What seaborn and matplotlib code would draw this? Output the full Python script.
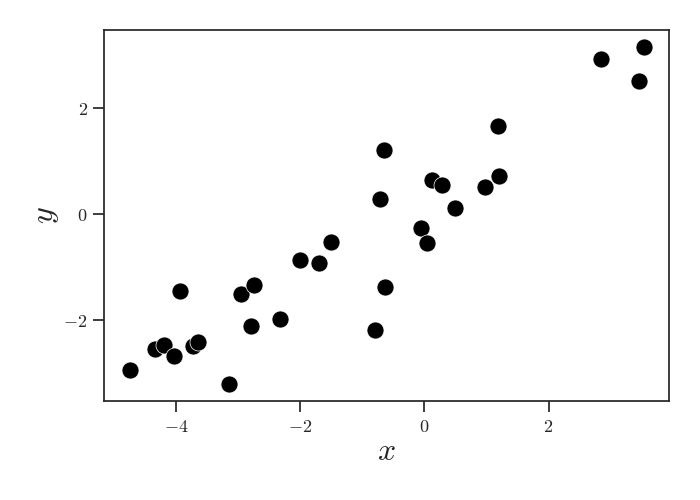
import matplotlib
matplotlib.use("Agg")
import matplotlib.pyplot as plt
import seaborn as sns
import pandas as pd

x_vals = [-4.74, -4.34, -4.19, -4.03, -3.93, -3.73, -3.64, -3.15, -2.95, -2.79,
          -2.75, -2.33, -2.01, -1.70, -1.51, -0.80, -0.72, -0.65, -0.64, -0.06,
          0.05, 0.12, 0.29, 0.49, 0.97, 1.19, 1.21, 2.85, 3.46, 3.53]
y_vals = [-2.95, -2.55, -2.49, -2.69, -1.47, -2.50, -2.43, -3.22, -1.52, -2.12,
          -1.34, -1.99, -0.87, -0.94, -0.54, -2.20, 0.27, 1.20, -1.39, -0.28,
          -0.56, 0.63, 0.55, 0.10, 0.51, 1.66, 0.72, 2.92, 2.51, 3.15]
x_ticks = [-4, -2, 0, 2]
x_tick_labels = [r"$-4$", r"$-2$", r"$0$", r"$2$"]
y_ticks = [-2, 0, 2]
y_tick_labels = [r"$-2$", r"$0$", r"$2$"]

sns.set_theme(style="ticks", context="notebook")
plt.rcParams["mathtext.fontset"] = "cm"
plt.rcParams["font.family"] = ["DejaVu Serif"]

df = pd.DataFrame({"x": x_vals, "y": y_vals})

fig = plt.figure(figsize=(7, 5), dpi=100)
ax = fig.add_axes([0.149, 0.198, 0.807, 0.742])
sns.scatterplot(data=df, x="x", y="y", color="black", s=150,
                edgecolor="white", linewidth=0.5, ax=ax)
ax.set_xticks(x_ticks, x_tick_labels, fontsize=13)
ax.set_yticks(y_ticks, y_tick_labels, fontsize=13)
ax.tick_params(length=8, width=1.25, pad=4)
ax.set_xlabel(r"$x$", fontsize=23, labelpad=0)
ax.set_ylabel(r"$y$", fontsize=23, labelpad=2)
fig.savefig("out.png", dpi=100)
